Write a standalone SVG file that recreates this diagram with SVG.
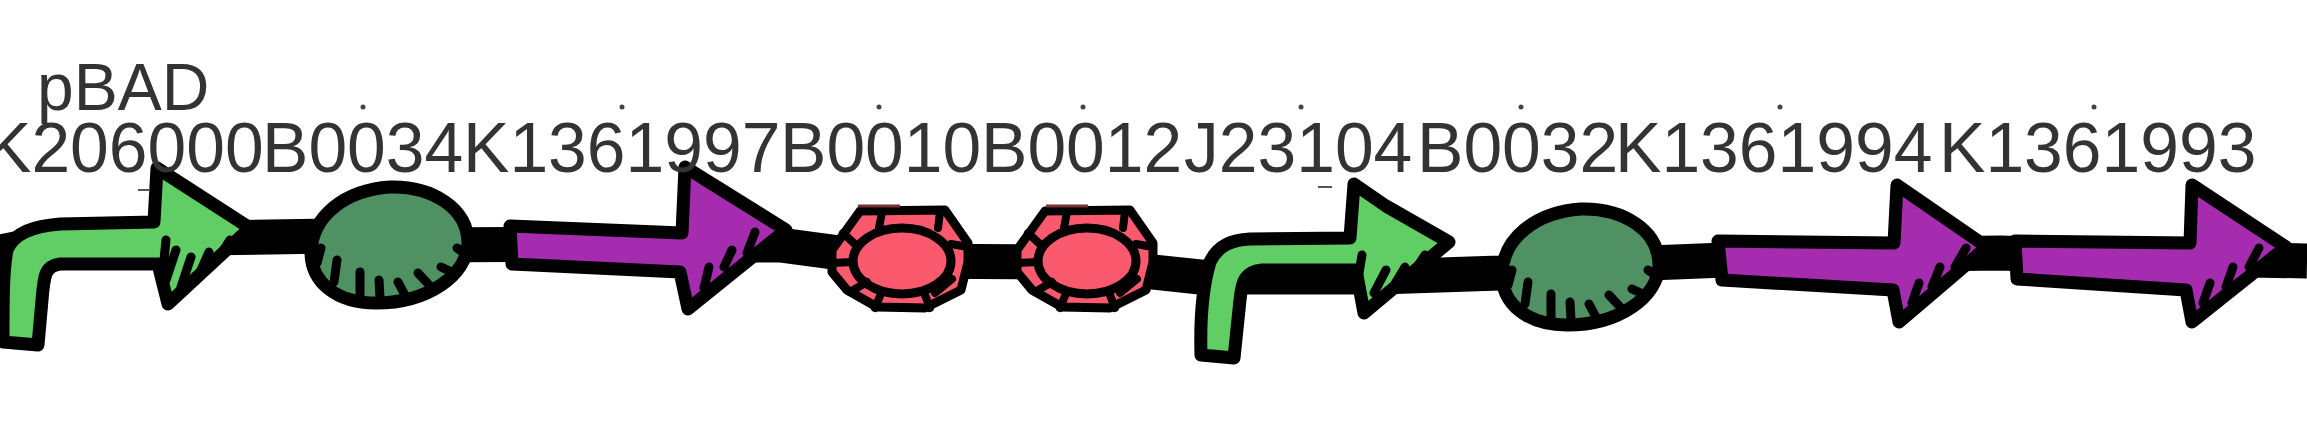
<svg xmlns="http://www.w3.org/2000/svg" width="2307" height="424" viewBox="0 0 2307 424">
<style>
.bg{fill:#fff}
.lbl{font-family:"Liberation Sans",Arial,sans-serif;font-size:69.6px;fill:#333}
.ol{stroke:#000;stroke-width:13;stroke-linejoin:round;stroke-linecap:round}
.tl{stroke:#000;stroke-width:9;stroke-linejoin:round;stroke-linecap:round}
.h{fill:none;stroke:#000;stroke-width:9;stroke-linecap:round}
.s{fill:none;stroke:#000;stroke-width:8;stroke-linecap:round}
.prom{fill:#60ce64}.cds{fill:#a52cae}.rbs{fill:#4f9163}.term{fill:#fb5a6e}
.dot{fill:#444}
</style>
<defs>
<g id="rbs-shape">
<path class="ol rbs" d="M390,187C432,186 468,208 468,243C467,275 428,303 376,303C336,303 311,282 311,252C312,216 345,190 390,187Z"/>
<path class="h" d="M321,248L317,263M337,260L334,282M360,272V297M379,280L380,298M398,282L406,297M418,273L431,287M441,267L454,273M457,248L467,255"/>
</g>
<g id="term-shape">
<path class="tl term" d="M860,211L945,210L968,243V262L961,290L925,308L877,307L847,290L832,272V250Z"/>
<ellipse class="tl term" cx="902" cy="261" rx="49" ry="33"/>
<path class="s" d="M882,212L879,228M940,212L938,228M951,244L968,247M832,263L853,262M843,233L858,247M952,279L935,293M925,295L930,308M850,292L867,282M880,296L875,308"/>
</g>
</defs>
<rect class="bg" width="2307" height="424"/>
<g id="connectors">
<path d="M0,252L60,240L270,237L330,236L420,245L600,244L780,245L900,261L1060,262L1200,277L1380,277L1500,273L1600,265L1700,261L1850,255L2000,253L2150,258L2307,261" fill="none" stroke="#000" stroke-width="35" stroke-linejoin="round"/>
</g>
<g id="pBAD">
<path class="ol prom" d="M3,342C3,300 3,270 7,250C14,232 35,226 60,224L154,222L157,168L250,228L168,304L158,264L60,264C45,266 44,275 42,300L38,345Z"/>
<path class="h" d="M166,240L163,270M176,250L166,280M191,257L181,287M209,252L201,270M230,240L219,257"/>
<text class="lbl" x="37" y="110" style="font-size:66px">pBAD</text>
<text class="lbl" x="-15" y="172">K206000</text>
</g>
<g id="B0034">
<use href="#rbs-shape"/>
<text class="lbl" x="262" y="172">B0034</text>
</g>
<g id="K1361997">
<path class="ol cds" d="M510,226L682,233L685,167L786,230L688,309L680,272L512,264Z"/>
<path class="h" d="M755,232L747,253M732,250L724,267M709,267L704,288"/>
<text class="lbl" x="463" y="172">K1361997</text>
</g>
<g id="B0010">
<use href="#term-shape"/>
<text class="lbl" x="780" y="172">B0010</text>
</g>
<g id="B0012">
<use href="#term-shape" transform="translate(185,0)"/>
<text class="lbl" x="981" y="172">B0012</text>
</g>
<g id="J23104">
<path class="ol prom" d="M1201,355C1200,320 1203,285 1210,262C1218,245 1232,240 1250,239L1350,238L1354,184L1386,206L1449,242L1364,313L1356,270L1262,270C1245,272 1242,280 1240,300L1234,358Z"/>
<path class="h" d="M1362,255L1359,273M1386,270L1374,293M1405,267L1393,287M1425,255L1417,267"/>
<text class="lbl" x="1184" y="172">J23104</text>
</g>
<g id="B0032">
<use href="#rbs-shape" transform="translate(1191,22)"/>
<text class="lbl" x="1417" y="172">B0032</text>
</g>
<g id="K1361994">
<path class="ol cds" d="M1718,241L1894,243L1897,185L1987,247L1899,322L1893,290L1722,280Z"/>
<path class="h" d="M1966,248L1955,267M1940,267L1932,287M1919,283L1912,303"/>
<text class="lbl" x="1615" y="172">K1361994</text>
</g>
<g id="K1361993">
<path class="ol cds" d="M2015,241L2190,243L2192,185L2286,247L2192,322L2186,290L2017,279Z"/>
<path class="h" d="M2259,248L2249,267M2233,267L2226,287M2210,283L2203,303"/>
<text class="lbl" x="1939" y="172">K1361993</text>
</g>
<g id="specks">
<circle class="dot" cx="363" cy="107" r="2.5"/><circle class="dot" cx="622" cy="107" r="2.5"/><circle class="dot" cx="879" cy="107" r="2.5"/><circle class="dot" cx="1083" cy="107" r="2.5"/><circle class="dot" cx="1301" cy="107" r="2.5"/><circle class="dot" cx="1521" cy="107" r="2.5"/><circle class="dot" cx="1780" cy="107" r="2.5"/><circle class="dot" cx="2094" cy="107" r="2.5"/>
<path d="M138,190H150M1318,187H1332" stroke="#555" stroke-width="2"/>
<path d="M858,206H900M1046,206H1088" stroke="#7a3030" stroke-width="3"/>
</g>
</svg>
